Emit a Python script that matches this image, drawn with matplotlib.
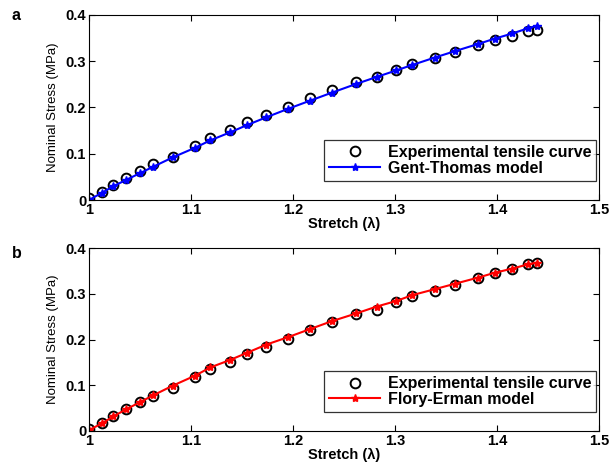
import matplotlib
matplotlib.use("Agg")
import matplotlib.pyplot as plt

plt.rcParams['font.family'] = ['Liberation Sans', 'DejaVu Sans']

stretch = [1.000, 1.013, 1.024, 1.036, 1.050, 1.063, 1.082, 1.104, 1.119, 1.138,
           1.155, 1.174, 1.195, 1.217, 1.238, 1.262, 1.282, 1.301, 1.317, 1.339,
           1.359, 1.381, 1.398, 1.415, 1.430, 1.439]
experimental = [0.004, 0.018, 0.033, 0.048, 0.063, 0.077, 0.094, 0.117, 0.135, 0.151,
                0.168, 0.183, 0.201, 0.221, 0.238, 0.255, 0.265, 0.281, 0.294, 0.306,
                0.320, 0.335, 0.346, 0.355, 0.365, 0.368]
gent_thomas = [0.000, 0.016, 0.030, 0.043, 0.058, 0.072, 0.092, 0.113, 0.129, 0.146,
               0.162, 0.179, 0.197, 0.215, 0.232, 0.251, 0.266, 0.280, 0.292, 0.308,
               0.322, 0.337, 0.349, 0.360, 0.371, 0.377]
flory_erman = [0.002, 0.017, 0.032, 0.047, 0.063, 0.078, 0.099, 0.121, 0.139, 0.155,
               0.171, 0.189, 0.205, 0.223, 0.240, 0.257, 0.272, 0.284, 0.297, 0.310,
               0.322, 0.335, 0.346, 0.355, 0.364, 0.368]

xticks = [1, 1.1, 1.2, 1.3, 1.4, 1.5]
xticklabels = ['1', '1.1', '1.2', '1.3', '1.4', '1.5']
yticks = [0, 0.1, 0.2, 0.3, 0.4]
yticklabels = ['0', '0.1', '0.2', '0.3', '0.4']

fig = plt.figure(figsize=(6.11, 4.69), dpi=100)
W, H = 611, 469
panels = [
    ('a', 15, 200, gent_thomas, 'blue', 'Gent-Thomas model', 16),
    ('b', 248, 431, flory_erman, 'red', 'Flory-Erman model', 254),
]

for letter, top, bottom, model, color, name, ly in panels:
    ax = fig.add_axes([89 / W, 1 - bottom / H, (599 - 89) / W, (bottom - top) / H])
    ax.plot(stretch, experimental, 'o', mfc='none', mec='black', mew=1.4, ms=7,
            label='Experimental tensile curve')
    ax.plot(stretch, model, '-*', color=color, lw=1.5, ms=6, label=name)
    ax.set_xlim(1, 1.5)
    ax.set_ylim(0, 0.4)
    ax.set_xticks(xticks)
    ax.set_xticklabels(xticklabels, fontweight='bold', fontsize=10.5)
    ax.set_yticks(yticks)
    ax.set_yticklabels(yticklabels, fontweight='bold', fontsize=10.5)
    ax.tick_params(direction='in', top=True, right=True, length=4, pad=2)
    ax.set_xlabel('Stretch (λ)', fontweight='bold', fontsize=10.5, labelpad=0)
    ax.set_ylabel('Nominal Stress (MPa)', fontsize=9.5, labelpad=5)
    leg = ax.legend(loc='lower right', bbox_to_anchor=(0.995, 0.105), fontsize=11.5,
                    frameon=True, fancybox=False, edgecolor='black', borderpad=0.3,
                    handlelength=3.2, labelspacing=0.05, borderaxespad=0,
                    handletextpad=0.5)
    leg.get_frame().set_linewidth(0.9)
    for t in leg.get_texts():
        t.set_fontweight('bold')
    fig.text(12 / W, 1 - ly / H, letter, fontweight='bold', fontsize=11.5, va='center')

fig.savefig('out.png', dpi=100)
